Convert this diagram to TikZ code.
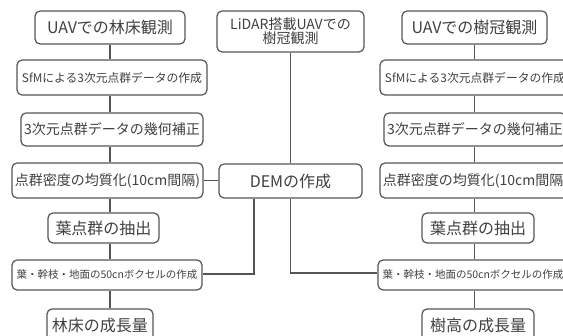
\documentclass[tikz,border=0pt]{standalone}
\usepackage{fontspec}
\setmainfont{Noto Sans CJK JP}
\definecolor{ln}{HTML}{555555}
\definecolor{tx}{HTML}{404040}
\tikzset{
  box/.style={draw=ln, line width=1.2pt, rounded corners=5pt, inner sep=0pt, text=tx, align=center},
  conn/.style={draw=ln, line width=1.2pt},
}
\newcommand{\fs}[1]{\fontsize{#1}{#1}\selectfont}
\begin{document}
\begin{tikzpicture}[x=1pt,y=-1pt]
\useasboundingbox (0,0) rectangle (563,336);
\clip (0,0) rectangle (563,336);
% left column
\node[box, minimum width=150pt, minimum height=33pt, font=\fs{16}] (L1) at (110,27.5) {UAVでの林床観測};
\node[box, minimum width=190pt, minimum height=35pt, font=\fs{11.8}] (L2) at (112,77.5) {SfMによる3次元点群データの作成};
\node[box, minimum width=182pt, minimum height=33pt, font=\fs{14}] (L3) at (112,129.5) {3次元点群データの幾何補正};
\node[box, minimum width=191pt, minimum height=35pt, font=\fs{14}] (L4) at (107.5,180.5) {点群密度の均質化(10cm間隔)};
\node[box, minimum width=111pt, minimum height=30pt, font=\fs{16}] (L5) at (103.5,228) {葉点群の抽出};
\node[box, minimum width=190pt, minimum height=30pt, font=\fs{10.5}] (L6) at (107,275) {葉・幹枝・地面の50cnボクセルの作成};
\node[box, minimum width=106pt, minimum height=33pt, font=\fs{16}] (L7) at (100,325.5) {林床の成長量};
% middle
\node[box, minimum width=147pt, minimum height=41pt, font=\fs{14}, align=center] (LID) at (290.5,31.5) {\fontsize{14}{16}\selectfont LiDAR搭載UAVでの\\樹冠観測};
\node[box, minimum width=143pt, minimum height=34pt, font=\fs{16}] (DEM) at (290.5,181) {DEMの作成};
% right column
\node[box, minimum width=145pt, minimum height=33pt, font=\fs{16}] (R1) at (474.5,27.5) {UAVでの樹冠観測};
\node[box, minimum width=190pt, minimum height=35pt, font=\fs{11.8}] (R2) at (475,77.5) {SfMによる3次元点群データの作成};
\node[box, minimum width=182pt, minimum height=33pt, font=\fs{14}] (R3) at (475,129.5) {3次元点群データの幾何補正};
\node[box, minimum width=191pt, minimum height=35pt, font=\fs{14}] (R4) at (475.5,180.5) {点群密度の均質化(10cm間隔)};
\node[box, minimum width=112pt, minimum height=30pt, font=\fs{16}] (R5) at (478,228) {葉点群の抽出};
\node[box, minimum width=190pt, minimum height=30pt, font=\fs{10.5}] (R6) at (473,275) {葉・幹枝・地面の50cnボクセルの作成};
\node[box, minimum width=112pt, minimum height=33pt, font=\fs{16}] (R7) at (478,325.5) {樹高の成長量};
% left connectors
\foreach \a/\b in {L1/L2,L2/L3,L3/L4,L4/L5,L5/L6,L6/L7}
  \draw[conn] (L1.south |- \a.south) -- (L1.south |- \b.north);
\foreach \a/\b in {R1/R2,R2/R3,R3/R4,R4/R5,R5/R6,R6/R7}
  \draw[conn] (R1.south |- \a.south) -- (R1.south |- \b.north);
% middle connectors
\draw[conn] (LID.south) -- (DEM.north);
\draw[conn] (L4.east) -- (L4.east -| DEM.west);
\draw[conn] ([xshift=-36.5pt]DEM.south) |- ([yshift=1pt]L6.east);
\draw[conn] (DEM.south) |- ([yshift=2pt]R6.west);
\end{tikzpicture}
\end{document}
